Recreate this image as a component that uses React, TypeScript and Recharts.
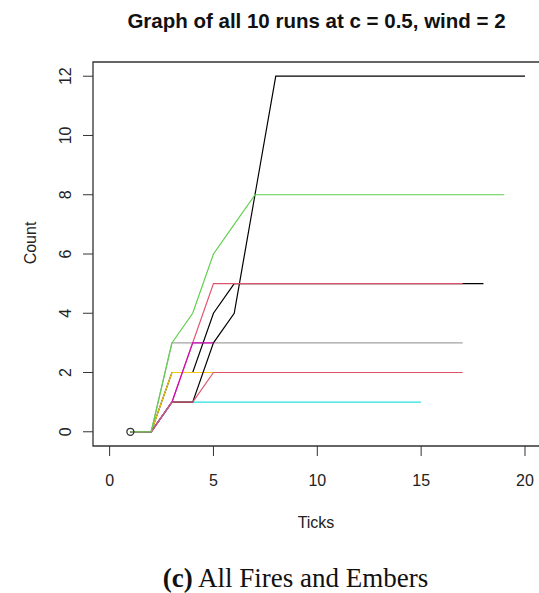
import { ComposedChart, Line, ReferenceArea, XAxis, YAxis } from "recharts";

// one count per tick, starting at tick 1; a run stops where its array ends
const RUN_GRAY = [0, 0, 3, 3, 3, 3, 3, 3, 3, 3, 3, 3, 3, 3, 3, 3, 3];
const RUN_CYAN = [0, 0, 1, 1, 1, 1, 1, 1, 1, 1, 1, 1, 1, 1, 1];
const RUN_BLACK_B = [0, 0, 2, 2, 4, 5, 5, 5, 5, 5, 5, 5, 5, 5, 5, 5, 5, 5];
const RUN_YELLOW = [0, 0, 2, 2, 2];
const RUN_BLACK_A = [0, 0, 1, 1, 3, 4, 8, 12, 12, 12, 12, 12, 12, 12, 12, 12, 12, 12, 12, 12];
const RUN_RED_B = [0, 0, 1, 3, 5, 5, 5, 5, 5, 5, 5, 5, 5, 5, 5, 5, 5];
const RUN_MAGENTA = [0, 0, 1, 3, 3];
const RUN_BLUE = [0, 0, 1];
const RUN_RED_A = [0, 0, 1, 1, 2, 2, 2, 2, 2, 2, 2, 2, 2, 2, 2, 2, 2];
const RUN_GREEN = [0, 0, 3, 4, 6, 7, 8, 8, 8, 8, 8, 8, 8, 8, 8, 8, 8, 8, 8];

const X_TICKS = [0, 5, 10, 15, 20];
const Y_TICKS = [0, 2, 4, 6, 8, 10, 12];

// draw order matters: later runs sit on top where they overlap
const RUNS = [
  { key: "gray", values: RUN_GRAY, color: "#a3a3a3" },
  { key: "cyan", values: RUN_CYAN, color: "#28e2e5" },
  { key: "blackB", values: RUN_BLACK_B, color: "#000000" },
  { key: "yellow", values: RUN_YELLOW, color: "#f5c710" },
  { key: "blackA", values: RUN_BLACK_A, color: "#000000" },
  { key: "redB", values: RUN_RED_B, color: "#df536b" },
  { key: "magenta", values: RUN_MAGENTA, color: "#cd0bbc" },
  { key: "blue", values: RUN_BLUE, color: "#2297e6" },
  { key: "redA", values: RUN_RED_A, color: "#df536b" },
  { key: "green", values: RUN_GREEN, color: "#61d04f" },
];

const maxLen = Math.max(...RUNS.map((r) => r.values.length));
const rows = Array.from({ length: maxLen }, (_, i) => {
  const row: Record<string, number | undefined> = { t: i + 1 };
  RUNS.forEach((r) => {
    row[r.key] = r.values[i];
  });
  return row;
});

const FONT = "'Liberation Sans', Arial, sans-serif";

function XTick({ x, y, payload }: { x?: number; y?: number; payload?: { value: number } }) {
  return (
    <text x={x} y={(y ?? 0) + 28} textAnchor="middle" fontFamily={FONT} fontSize={16} fill="#222">
      {payload?.value}
    </text>
  );
}

function YTick({ x, y, payload }: { x?: number; y?: number; payload?: { value: number } }) {
  return (
    <text
      transform={`translate(${(x ?? 0) - 10},${y}) rotate(-90)`}
      textAnchor="middle"
      fontFamily={FONT}
      fontSize={16}
      fill="#222"
    >
      {payload?.value}
    </text>
  );
}

function StartDot(props: { cx?: number; cy?: number; index?: number }) {
  const { cx, cy, index } = props;
  if (index !== 0) return <g key={`d${index}`} />;
  return <circle key="start" cx={cx} cy={cy} r={3.5} fill="none" stroke="#333" strokeWidth={1.3} />;
}

export default function App() {
  return (
    <div
      style={{
        position: "absolute",
        left: 0,
        top: 0,
        width: 539,
        height: 593,
        overflow: "hidden",
        background: "#fff",
      }}
    >
      <div
        style={{
          position: "absolute",
          left: 0,
          width: 633,
          top: 9,
          textAlign: "center",
          fontFamily: FONT,
          fontWeight: "bold",
          fontSize: 20.5,
          color: "#111",
          lineHeight: "24px",
          whiteSpace: "nowrap",
        }}
      >
        Graph of all 10 runs at c = 0.5, wind = 2
      </div>
      <ComposedChart width={560} height={593} data={rows} margin={{ top: 62, right: 18.4, bottom: 0, left: 0 }}>
        <XAxis
          dataKey="t"
          type="number"
          domain={[-0.8, 20.8]}
          ticks={X_TICKS}
          allowDataOverflow
          height={147}
          tickSize={10}
          axisLine={false}
          tickLine={{ stroke: "#333" }}
          tick={<XTick />}
        />
        <YAxis
          type="number"
          domain={[-0.48, 12.48]}
          ticks={Y_TICKS}
          allowDataOverflow
          width={93}
          tickSize={10}
          axisLine={false}
          tickLine={{ stroke: "#333" }}
          tick={<YTick />}
        />
        {RUNS.map((r) => (
          <Line
            key={r.key}
            dataKey={r.key}
            type="linear"
            stroke={r.color}
            strokeWidth={1.2}
            dot={false}
            activeDot={false}
            isAnimationActive={false}
          />
        ))}
        <Line
          dataKey="redA"
          type="linear"
          stroke="none"
          dot={<StartDot />}
          activeDot={false}
          isAnimationActive={false}
        />
        <ReferenceArea
          x1={-0.8}
          x2={20.8}
          y1={-0.48}
          y2={12.48}
          fill="none"
          stroke="#333"
          strokeWidth={1.3}
          ifOverflow="visible"
        />
      </ComposedChart>
      <div
        style={{
          position: "absolute",
          left: 0,
          width: 632,
          top: 513,
          textAlign: "center",
          fontFamily: FONT,
          fontSize: 16,
          color: "#222",
          lineHeight: "20px",
        }}
      >
        Ticks
      </div>
      <div
        style={{
          position: "absolute",
          left: 31,
          top: 243,
          transform: "translate(-50%, -50%) rotate(-90deg)",
          fontFamily: FONT,
          fontSize: 16,
          color: "#222",
          lineHeight: "20px",
          whiteSpace: "nowrap",
        }}
      >
        Count
      </div>
      <div
        style={{
          position: "absolute",
          left: 0,
          width: 591,
          top: 565,
          textAlign: "center",
          fontFamily: "'Liberation Serif', 'Times New Roman', serif",
          fontSize: 27,
          color: "#111",
          lineHeight: "26px",
          whiteSpace: "nowrap",
        }}
      >
        <b>(c)</b> All Fires and Embers
      </div>
    </div>
  );
}
